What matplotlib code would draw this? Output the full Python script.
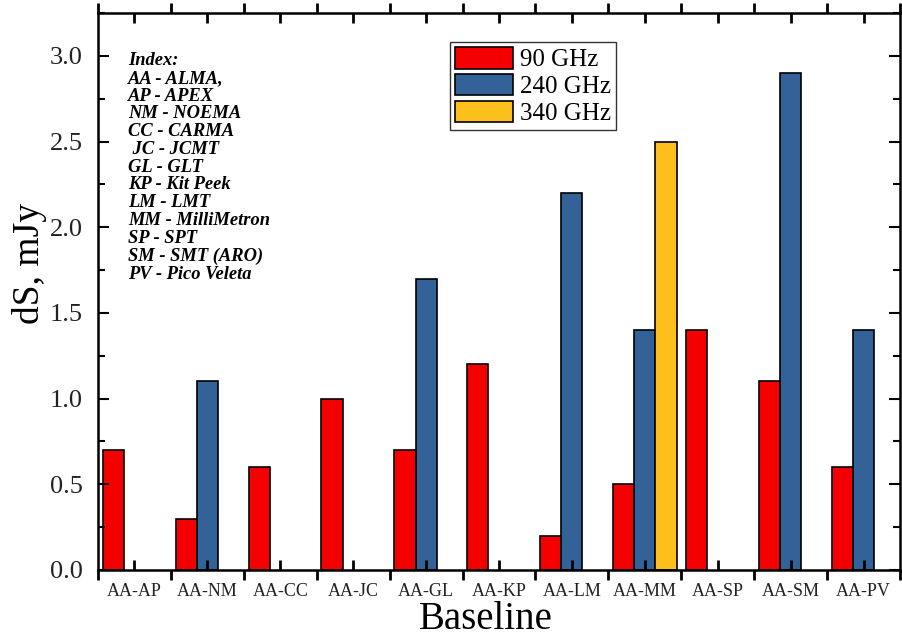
import numpy as np
import matplotlib
matplotlib.use("Agg")
import matplotlib.pyplot as plt
from matplotlib.ticker import FixedLocator, MultipleLocator

# data
baselines = ['AA-AP', 'AA-NM', 'AA-CC', 'AA-JC', 'AA-GL', 'AA-KP',
             'AA-LM', 'AA-MM', 'AA-SP', 'AA-SM', 'AA-PV']
ds_90 = [0.7, 0.3, 0.6, 1.0, 0.7, 1.2, 0.2, 0.5, 1.4, 1.1, 0.6]
ds_240 = [np.nan, 1.1, np.nan, np.nan, 1.7, np.nan, 2.2, 1.4, np.nan, 2.9, 1.4]
ds_340 = [np.nan, np.nan, np.nan, np.nan, np.nan, np.nan, np.nan, 2.5, np.nan, np.nan, np.nan]
series_labels = ['90 GHz', '240 GHz', '340 GHz']
yticks = [0.0, 0.5, 1.0, 1.5, 2.0, 2.5, 3.0]
index_lines = ['Index:', 'AA - ALMA,', 'AP - APEX', 'NM - NOEMA', 'CC - CARMA',
               ' JC - JCMT', 'GL - GLT', 'KP - Kit Peek', 'LM - LMT',
               'MM - MilliMetron', 'SP - SPT', 'SM - SMT (ARO)', 'PV - Pico Veleta']

plt.rcParams['font.family'] = ['Liberation Serif', 'DejaVu Serif']

fig = plt.figure(figsize=(9.02, 6.41), dpi=100)
ax = fig.add_axes([98 / 902, 1 - 570 / 641, 802 / 902, 557 / 641])

x = np.arange(len(baselines))
w = 0.29
colors = ['#f50000', '#336299', '#fdbf1c']
for k, (vals, lab, col) in enumerate(zip([ds_90, ds_240, ds_340], series_labels, colors)):
    ax.bar(x + (k - 1) * w, vals, w, color=col, edgecolor='black', linewidth=1.2, label=lab)

ax.set_xlim(-0.5, len(baselines) - 0.5)
ax.set_ylim(0, 3.25)

# x: labels at group centres (ticks inward), boundary ticks outward
ax.set_xticks(x)
ax.set_xticklabels(baselines, fontsize=13, color='#222222')
ax.xaxis.set_minor_locator(FixedLocator(np.arange(-0.5, len(baselines), 1.0)))
ax.tick_params(axis='x', which='major', direction='in', length=7, width=2, top=True, pad=9)
ax.tick_params(axis='x', which='minor', direction='out', length=7, width=2, top=True)

ax.set_yticks(yticks)
ax.set_yticklabels([f'{v:.1f}' for v in yticks], fontsize=19, color='#222222')
ax.yaxis.set_minor_locator(MultipleLocator(0.25))
ax.tick_params(axis='y', which='major', direction='in', length=8, width=1.5, right=True, pad=11)
ax.tick_params(axis='y', which='minor', direction='in', length=5, width=1.5, right=True)

for sp in ax.spines.values():
    sp.set_linewidth(1.8)

ax.set_xlabel('Baseline', fontsize=28)
ax.set_ylabel('dS, mJy', fontsize=27)
ax.xaxis.set_label_coords(0.483, -0.055)
ax.yaxis.set_label_coords(-0.063, 0.551)

leg = ax.legend(loc='upper left', bbox_to_anchor=(450 / 902, 1 - 42 / 641),
                bbox_transform=fig.transFigure, fontsize=18, frameon=True,
                fancybox=False, edgecolor='black', handlelength=2.3, handleheight=0.95,
                labelspacing=0.1, borderpad=0.2, handletextpad=0.3, borderaxespad=0)
leg.get_frame().set_linewidth(1.0)

ax.text(128 / 902, 1 - 52 / 641, '\n'.join(index_lines), transform=fig.transFigure,
        fontsize=13.3, fontstyle='italic', fontweight='bold', va='top', ha='left',
        linespacing=1.06)

fig.savefig('out.png', dpi=100)
